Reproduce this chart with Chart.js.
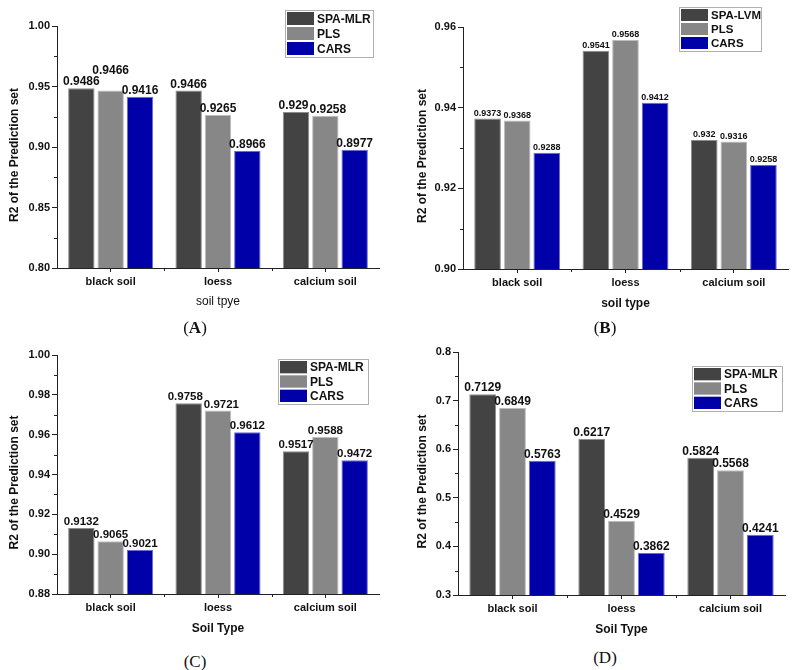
<!DOCTYPE html>
<html lang="en">
<head>
<meta charset="UTF-8">
<title>R2 of the Prediction set</title>
<script src="https://cdn.jsdelivr.net/npm/chart.js"></script>
<style>
    body { margin: 0; background: #fff; width: 794px; height: 670px; position: relative; overflow: hidden; }
    .painel { position: absolute; }
    .letra { position: absolute; transform: translate(-50%, -50%); font-family: "Liberation Serif", "DejaVu Serif", serif; font-size: 17px; color: #111; }
</style>
</head>
<body>
    <canvas id="chartA" class="painel" width="397" height="309" style="left:0px; top:0px;"></canvas>
    <canvas id="chartB" class="painel" width="397" height="311" style="left:397px; top:0px;"></canvas>
    <canvas id="chartC" class="painel" width="397" height="301" style="left:0px; top:335px;"></canvas>
    <canvas id="chartD" class="painel" width="397" height="302" style="left:397px; top:335px;"></canvas>

    <div class="letra" style="left:195px; top:328px;">(<b>A</b>)</div>
    <div class="letra" style="left:605px; top:328px;">(<b>B</b>)</div>
    <div class="letra" style="left:195px; top:662px;">(C)</div>
    <div class="letra" style="left:605px; top:658px;">(D)</div>

<script>
    // categorias (iguais nos 4 graficos)
    const soilTypes = ['black soil', 'loess', 'calcium soil'];

    // grafico A
    const spaA = [0.9486, 0.9466, 0.929];
    const plsA = [0.9466, 0.9265, 0.9258];
    const carsA = [0.9416, 0.8966, 0.8977];
    const ticksA = [0.80, 0.85, 0.90, 0.95, 1.00];

    // grafico B
    const spaB = [0.9373, 0.9541, 0.932];
    const plsB = [0.9368, 0.9568, 0.9316];
    const carsB = [0.9288, 0.9412, 0.9258];
    const ticksB = [0.90, 0.92, 0.94, 0.96];

    // grafico C
    const spaC = [0.9132, 0.9758, 0.9517];
    const plsC = [0.9065, 0.9721, 0.9588];
    const carsC = [0.9021, 0.9612, 0.9472];
    const ticksC = [0.88, 0.90, 0.92, 0.94, 0.96, 0.98, 1.00];

    // grafico D
    const spaD = [0.7129, 0.6217, 0.5824];
    const plsD = [0.6849, 0.4529, 0.5568];
    const carsD = [0.5763, 0.3862, 0.4241];
    const ticksD = [0.3, 0.4, 0.5, 0.6, 0.7, 0.8];

    const tituloY = 'R2 of the Prediction set';
    const fonte = '"Liberation Sans", Arial, sans-serif';
    const corTexto = '#111111';

    // rotulos de valor em cima das barras
    // se dois rotulos se tocam: afasta de lado (pouco) ou sobe o de baixo (muito)
    const rotulos = {
        id: 'rotulos',
        afterDatasetsDraw(chart, args, opts) {
            const ctx = chart.ctx;
            const tam = opts.tamanho;
            const alt = tam * 0.75;
            ctx.save();
            ctx.font = 'bold ' + tam + 'px ' + fonte;
            const itens = [];
            chart.data.labels.forEach((lab, i) => {
                chart.data.datasets.forEach((ds, d) => {
                    const bar = chart.getDatasetMeta(d).data[i];
                    const txt = String(ds.data[i]);
                    const it = { txt: txt, x: bar.x, w: ctx.measureText(txt).width, base: bar.y - 3 };
                    itens.forEach(c => {
                        const ov = Math.min(it.x + it.w / 2, c.x + c.w / 2) - Math.max(it.x - it.w / 2, c.x - c.w / 2);
                        const vOv = it.base > c.base - alt && it.base - alt < c.base;
                        if (ov > 0 && vOv) {
                            if (ov <= 6) {
                                c.x -= ov / 2 + 0.5;
                                it.x += ov / 2 + 0.5;
                            } else {
                                it.base = c.base - alt - 2;
                            }
                        }
                    });
                    itens.push(it);
                });
            });
            ctx.fillStyle = corTexto;
            ctx.textAlign = 'center';
            ctx.textBaseline = 'alphabetic';
            itens.forEach(it => ctx.fillText(it.txt, it.x, it.base));
            ctx.restore();
        }
    };

    // titulo do eixo y, ticks menores e legenda com caixa
    const extras = {
        id: 'extras',
        afterDraw(chart, args, o) {
            const ctx = chart.ctx;
            const y = chart.scales.y;
            const x = chart.scales.x;
            const area = chart.chartArea;
            ctx.save();

            ctx.save();
            ctx.translate(o.tituloX, (area.top + area.bottom) / 2 + 8);
            ctx.rotate(-Math.PI / 2);
            ctx.font = 'bold 12px ' + fonte;
            ctx.fillStyle = corTexto;
            ctx.textAlign = 'center';
            ctx.textBaseline = 'middle';
            ctx.fillText(tituloY, 0, 0);
            ctx.restore();

            ctx.strokeStyle = '#222';
            ctx.lineWidth = 1;
            ctx.beginPath();
            for (let k = 0; k < o.ticksY.length - 1; k++) {
                const v = (o.ticksY[k] + o.ticksY[k + 1]) / 2;
                const py = Math.round(y.getPixelForValue(v)) + 0.5;
                ctx.moveTo(area.left - 3, py);
                ctx.lineTo(area.left, py);
            }
            for (let k = 1; k < chart.data.labels.length; k++) {
                const px = Math.round((x.getPixelForValue(k - 1) + x.getPixelForValue(k)) / 2) + 0.5;
                ctx.moveTo(px, area.bottom);
                ctx.lineTo(px, area.bottom + 3);
            }
            ctx.stroke();

            const L = o.legenda;
            ctx.strokeStyle = '#b0b0b0';
            ctx.strokeRect(L.x + 0.5, L.y + 0.5, L.w, L.h);
            const n = chart.data.datasets.length;
            const linha = (L.h - 2) / n;
            ctx.font = 'bold ' + L.tamanho + 'px ' + fonte;
            ctx.textBaseline = 'middle';
            ctx.textAlign = 'left';
            chart.data.datasets.forEach((ds, i) => {
                const ty = L.y + 2 + i * linha;
                ctx.fillStyle = ds.backgroundColor;
                ctx.fillRect(L.x + 2, ty, L.sw, linha - 2);
                ctx.fillStyle = corTexto;
                ctx.fillText(ds.label, L.x + L.sw + 5, ty + (linha - 2) / 2 + 1);
            });
            ctx.restore();
        }
    };

    function montaDatasets(nomes, s1, s2, s3) {
        return [
            { label: nomes[0], data: s1, backgroundColor: '#434343', borderColor: '#8c8c8c', borderWidth: 1 },
            { label: nomes[1], data: s2, backgroundColor: '#878787', borderColor: '#bdbdbd', borderWidth: 1 },
            { label: nomes[2], data: s3, backgroundColor: '#0000a8', borderColor: '#6a6ad6', borderWidth: 1 }
        ];
    }

    function montaGrafico(id, p) {
        return new Chart(document.getElementById(id), {
            type: 'bar',
            data: { labels: soilTypes, datasets: p.datasets },
            options: {
                responsive: false,
                animation: false,
                events: [],
                categoryPercentage: 0.82,
                barPercentage: 0.9,
                layout: { padding: { left: 0, top: p.topo, right: p.padR, bottom: 0 } },
                plugins: {
                    legend: { display: false },
                    tooltip: { enabled: false },
                    rotulos: { tamanho: p.tamRot },
                    extras: { ticksY: p.ticksY, legenda: p.legenda, tituloX: p.tituloYx }
                },
                scales: {
                    x: {
                        grid: { drawOnChartArea: false, offset: false, tickLength: 4, color: '#222' },
                        border: { color: '#222', width: 1 },
                        ticks: { font: { family: fonte, size: 11, weight: 'bold' }, color: corTexto, padding: 3, maxRotation: 0 },
                        title: { display: true, text: p.tituloX, color: corTexto, padding: { top: 0, bottom: 0 },
                                 font: { family: fonte, size: 12, weight: p.tituloXBold ? 'bold' : 'normal' } },
                        afterFit: s => { s.height = p.altura - p.base; }
                    },
                    y: {
                        min: p.ticksY[0],
                        max: p.ticksY[p.ticksY.length - 1],
                        afterBuildTicks: s => { s.ticks = p.ticksY.map(v => ({ value: v })); },
                        ticks: { autoSkip: false, padding: 2, color: corTexto, font: { family: fonte, size: 11, weight: 'bold' },
                                 callback: v => v.toFixed(p.casas) },
                        grid: { drawOnChartArea: false, tickLength: 5, color: '#222' },
                        border: { color: '#222', width: 1 },
                        afterFit: s => { s.width = p.esq; }
                    }
                }
            },
            plugins: [rotulos, extras]
        });
    }

    montaGrafico('chartA', {
        datasets: montaDatasets(['SPA-MLR', 'PLS', 'CARS'], spaA, plsA, carsA),
        ticksY: ticksA, casas: 2, tituloX: 'soil tpye', tituloXBold: false, tituloYx: 15,
        esq: 57, topo: 26, padR: 18, altura: 309, base: 268, tamRot: 12,
        legenda: { x: 285, y: 10, w: 88, h: 47, sw: 27, tamanho: 12 }
    });

    montaGrafico('chartB', {
        datasets: montaDatasets(['SPA-LVM', 'PLS', 'CARS'], spaB, plsB, carsB),
        ticksY: ticksB, casas: 2, tituloX: 'soil type', tituloXBold: true, tituloYx: 26,
        esq: 66, topo: 27, padR: 6, altura: 311, base: 269, tamRot: 9,
        legenda: { x: 282, y: 7, w: 82, h: 44, sw: 27, tamanho: 11.5 }
    });

    montaGrafico('chartC', {
        datasets: montaDatasets(['SPA-MLR', 'PLS', 'CARS'], spaC, plsC, carsC),
        ticksY: ticksC, casas: 2, tituloX: 'Soil Type', tituloXBold: true, tituloYx: 15,
        esq: 57, topo: 20, padR: 18, altura: 301, base: 259, tamRot: 11.5,
        legenda: { x: 278, y: 24, w: 90, h: 45, sw: 27, tamanho: 12 }
    });

    montaGrafico('chartD', {
        datasets: montaDatasets(['SPA-MLR', 'PLS', 'CARS'], spaD, plsD, carsD),
        ticksY: ticksD, casas: 1, tituloX: 'Soil Type', tituloXBold: true, tituloYx: 26,
        esq: 61, topo: 17, padR: 9, altura: 302, base: 260, tamRot: 12,
        legenda: { x: 295, y: 31, w: 90, h: 45, sw: 27, tamanho: 12 }
    });
</script>
</body>
</html>
